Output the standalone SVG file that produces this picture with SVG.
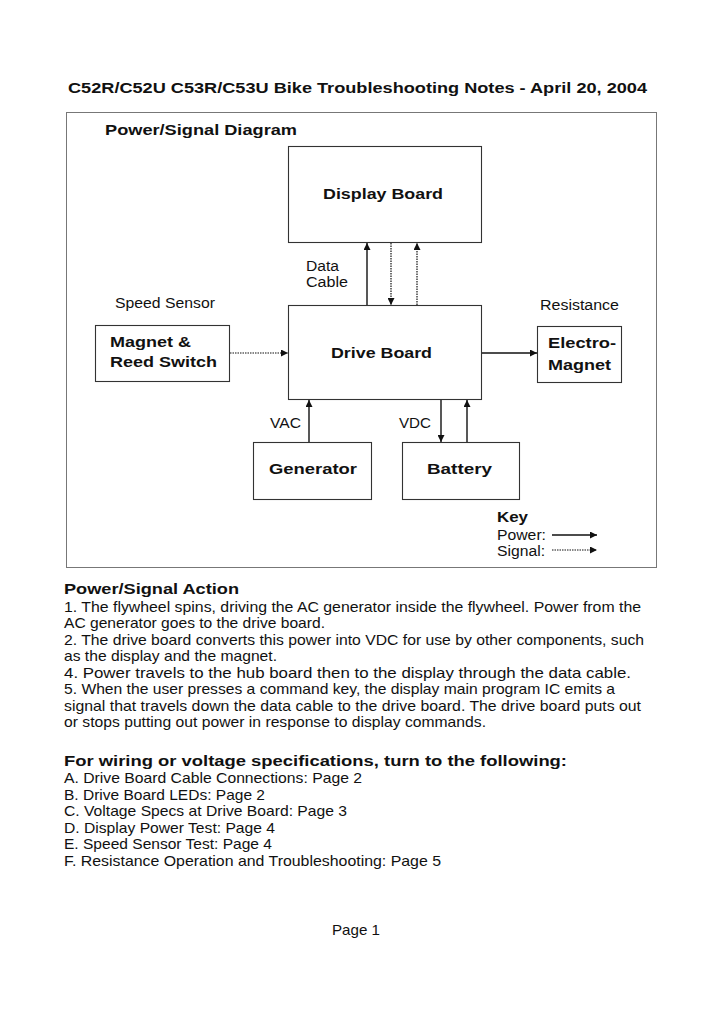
<svg xmlns="http://www.w3.org/2000/svg" width="725" height="1024" viewBox="0 0 725 1024">
<style>
text{font-family:"Liberation Sans",Arial,sans-serif;fill:#111}
.b{font-weight:bold;font-size:14px}
.r{font-size:14px}
.t{font-size:14.5px}
.box{fill:none;stroke:#333;stroke-width:1.1}
.pw{fill:none;stroke:#111;stroke-width:1.4}
.sg{fill:none;stroke:#111;stroke-width:1.2;stroke-dasharray:1.5 1}
</style>
<defs>
<marker id="ah" viewBox="0 0 10 10" refX="10" refY="5" markerWidth="7" markerHeight="7" markerUnits="userSpaceOnUse" orient="auto">
<path d="M0,0 L10,5 L0,10 z" fill="#111"/>
</marker>
</defs>
<rect width="725" height="1024" fill="#fff"/>
<text class="b" x="68" y="93" textLength="579" lengthAdjust="spacingAndGlyphs" style="font-size:14.5px">C52R/C52U C53R/C53U Bike Troubleshooting Notes - April 20, 2004</text>
<rect x="66.5" y="112.5" width="590" height="455" fill="none" stroke="#777" stroke-width="1"/>
<text class="b" x="105" y="135" textLength="192" lengthAdjust="spacingAndGlyphs">Power/Signal Diagram</text>

<g id="display-board">
<rect class="box" x="288.5" y="146.5" width="193" height="96"/>
<text class="b" x="323" y="199" textLength="120" lengthAdjust="spacingAndGlyphs">Display Board</text>
</g>
<g id="drive-board">
<rect class="box" x="288.5" y="305.5" width="193" height="94"/>
<text class="b" x="331" y="358" textLength="101" lengthAdjust="spacingAndGlyphs">Drive Board</text>
</g>
<g id="magnet-reed">
<rect class="box" x="95.5" y="325.5" width="134" height="56"/>
<text class="b" x="110" y="347" textLength="81" lengthAdjust="spacingAndGlyphs">Magnet &amp;</text>
<text class="b" x="110" y="367" textLength="107" lengthAdjust="spacingAndGlyphs">Reed Switch</text>
</g>
<g id="electro-magnet">
<rect class="box" x="537.5" y="326.5" width="84" height="56"/>
<text class="b" x="548" y="348" textLength="68" lengthAdjust="spacingAndGlyphs">Electro-</text>
<text class="b" x="548" y="370" textLength="63" lengthAdjust="spacingAndGlyphs">Magnet</text>
</g>
<g id="generator">
<rect class="box" x="253.5" y="442.5" width="118" height="57"/>
<text class="b" x="269" y="474" textLength="88" lengthAdjust="spacingAndGlyphs">Generator</text>
</g>
<g id="battery">
<rect class="box" x="402.5" y="442.5" width="117" height="57"/>
<text class="b" x="427" y="474" textLength="65" lengthAdjust="spacingAndGlyphs">Battery</text>
</g>

<g id="labels">
<text class="r" x="306" y="271" textLength="33" lengthAdjust="spacingAndGlyphs">Data</text>
<text class="r" x="306" y="287" textLength="42" lengthAdjust="spacingAndGlyphs">Cable</text>
<text class="r" x="115" y="308" textLength="100" lengthAdjust="spacingAndGlyphs">Speed Sensor</text>
<text class="r" x="540" y="310" textLength="79" lengthAdjust="spacingAndGlyphs">Resistance</text>
<text class="r" x="270" y="428" textLength="31" lengthAdjust="spacingAndGlyphs">VAC</text>
<text class="r" x="399" y="428" textLength="32" lengthAdjust="spacingAndGlyphs">VDC</text>
</g>

<g id="connectors">
<line class="pw" x1="367" y1="305" x2="367" y2="243" marker-end="url(#ah)"/>
<line class="sg" x1="391" y1="243" x2="391" y2="305" marker-end="url(#ah)"/>
<line class="sg" x1="417" y1="305" x2="417" y2="243" marker-end="url(#ah)"/>
<line class="sg" x1="230" y1="353" x2="288" y2="353" marker-end="url(#ah)"/>
<line class="pw" x1="482" y1="353" x2="537" y2="353" marker-end="url(#ah)"/>
<line class="pw" x1="309" y1="442" x2="309" y2="400" marker-end="url(#ah)"/>
<line class="pw" x1="441" y1="400" x2="441" y2="442" marker-end="url(#ah)"/>
<line class="pw" x1="467" y1="442" x2="467" y2="400" marker-end="url(#ah)"/>
</g>

<g id="key">
<text class="b" x="497" y="522" textLength="31" lengthAdjust="spacingAndGlyphs">Key</text>
<text class="r" x="497" y="540" textLength="49" lengthAdjust="spacingAndGlyphs">Power:</text>
<text class="r" x="497" y="556" textLength="48" lengthAdjust="spacingAndGlyphs">Signal:</text>
<line class="pw" x1="552" y1="535" x2="597" y2="535" marker-end="url(#ah)"/>
<line class="sg" x1="552" y1="550" x2="597" y2="550" marker-end="url(#ah)"/>
</g>

<g id="notes">
<text class="b" x="64" y="594" textLength="175" lengthAdjust="spacingAndGlyphs">Power/Signal Action</text>
<text class="t" x="64" y="612" textLength="577" lengthAdjust="spacingAndGlyphs">1. The flywheel spins, driving the AC generator inside the flywheel. Power from the</text>
<text class="t" x="64" y="628" textLength="261" lengthAdjust="spacingAndGlyphs">AC generator goes to the drive board.</text>
<text class="t" x="64" y="645" textLength="580" lengthAdjust="spacingAndGlyphs">2. The drive board converts this power into VDC for use by other components, such</text>
<text class="t" x="64" y="661" textLength="213" lengthAdjust="spacingAndGlyphs">as the display and the magnet.</text>
<text class="t" x="64" y="678" textLength="567" lengthAdjust="spacingAndGlyphs">4. Power travels to the hub board then to the display through the data cable.</text>
<text class="t" x="64" y="694" textLength="551" lengthAdjust="spacingAndGlyphs">5. When the user presses a command key, the display main program IC emits a</text>
<text class="t" x="64" y="711" textLength="577" lengthAdjust="spacingAndGlyphs">signal that travels down the data cable to the drive board. The drive board puts out</text>
<text class="t" x="64" y="727" textLength="422" lengthAdjust="spacingAndGlyphs">or stops putting out power in response to display commands.</text>
<text class="b" x="64" y="766" textLength="503" lengthAdjust="spacingAndGlyphs">For wiring or voltage specifications, turn to the following:</text>
<text class="t" x="64" y="783" textLength="298" lengthAdjust="spacingAndGlyphs">A. Drive Board Cable Connections: Page 2</text>
<text class="t" x="64" y="800" textLength="201" lengthAdjust="spacingAndGlyphs">B. Drive Board LEDs: Page 2</text>
<text class="t" x="64" y="816" textLength="283" lengthAdjust="spacingAndGlyphs">C. Voltage Specs at Drive Board: Page 3</text>
<text class="t" x="64" y="833" textLength="211" lengthAdjust="spacingAndGlyphs">D. Display Power Test: Page 4</text>
<text class="t" x="64" y="849" textLength="208" lengthAdjust="spacingAndGlyphs">E. Speed Sensor Test: Page 4</text>
<text class="t" x="64" y="866" textLength="377" lengthAdjust="spacingAndGlyphs">F. Resistance Operation and Troubleshooting: Page 5</text>
<text class="t" x="332" y="935" textLength="48" lengthAdjust="spacingAndGlyphs">Page 1</text>
</g>
</svg>
